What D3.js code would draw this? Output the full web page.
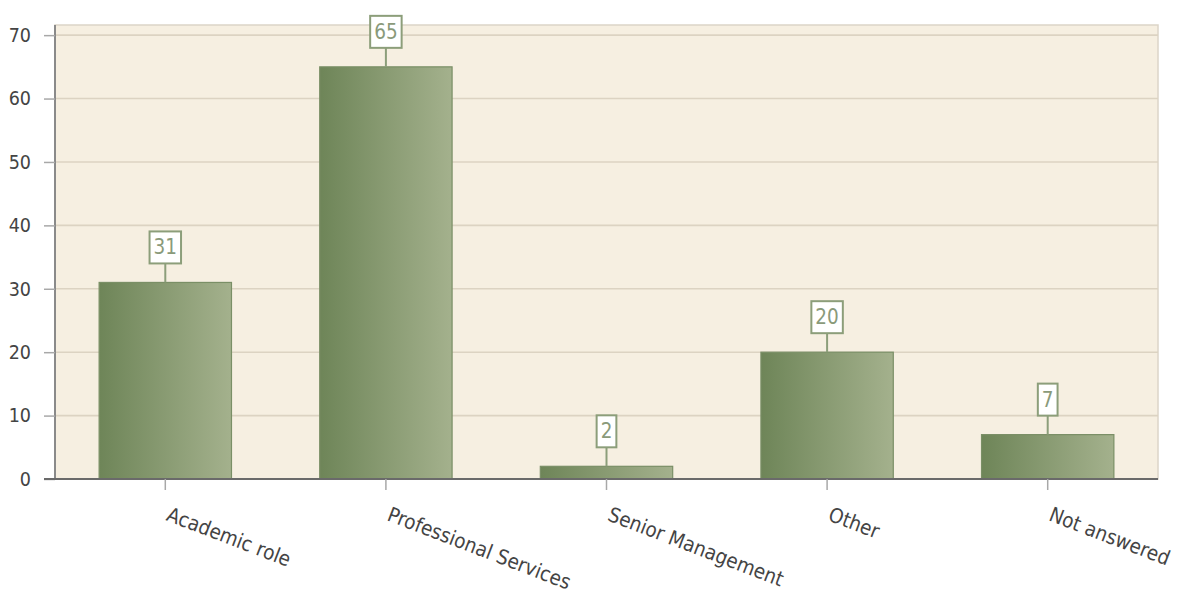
<!DOCTYPE html>
<html><head><meta charset="utf-8">
<script src="https://cdn.jsdelivr.net/npm/d3@7"></script>
<style>body{margin:0;background:#fff;} svg{display:block;}</style>
</head><body>
<script>
const categories = ["Academic role","Professional Services","Senior Management","Other","Not answered"];
const values = [31, 65, 2, 20, 7];
const yTicks = [0,10,20,30,40,50,60,70];

const W = 1184, H = 597;
const m = {left:55, top:25, right:1158, bottom:479};
const svg = d3.select("body").append("svg").attr("width",W).attr("height",H);
const FONT = "'DejaVu Sans Condensed','DejaVu Sans',sans-serif";

const x = d3.scaleBand().domain(categories).range([m.left, m.right]).paddingInner(0.4).paddingOuter(0.2);
const y = d3.scaleLinear().domain([0, 71.6]).range([m.bottom, m.top]);

const defs = svg.append("defs");
const g = defs.append("linearGradient").attr("id","bg").attr("x1","0").attr("x2","1").attr("y1","0").attr("y2","0");
g.append("stop").attr("offset","0").attr("stop-color","#6e8558");
g.append("stop").attr("offset","1").attr("stop-color","#a4b18d");

// plot background
svg.append("rect").attr("x",m.left).attr("y",m.top).attr("width",m.right-m.left).attr("height",m.bottom-m.top)
  .attr("fill","#f6efe1").attr("stroke","#dcd5c8").attr("stroke-width",1.5);

// grid
svg.append("g").selectAll("line").data(yTicks.filter(d=>d>0)).join("line")
  .attr("x1",m.left).attr("x2",m.right).attr("y1",d=>y(d)).attr("y2",d=>y(d))
  .attr("stroke","#dcd3c2").attr("stroke-width",1.6);

// y axis
const yAxis = svg.append("g").attr("transform",`translate(${m.left},0)`)
  .call(d3.axisLeft(y).tickValues(yTicks).tickSize(11).tickPadding(13));
yAxis.select(".domain").attr("stroke","#8a8a8a").attr("stroke-width",2).attr("d",`M0,${m.top}V${m.bottom}`);
yAxis.selectAll(".tick line").attr("stroke","#a8a8a8").attr("stroke-width",1.5);
yAxis.selectAll(".tick text").attr("fill","#444").style("font-family",FONT).style("font-size","19.5px");

// bars
svg.append("g").selectAll("rect").data(values).join("rect")
  .attr("x",(d,i)=>x(categories[i])).attr("width",x.bandwidth())
  .attr("y",d=>y(d)).attr("height",d=>y(0)-y(d))
  .attr("fill","url(#bg)").attr("stroke","#7a8f66").attr("stroke-width",1.2);

// x axis
const xAxis = svg.append("g").attr("transform",`translate(0,${m.bottom})`)
  .call(d3.axisBottom(x).tickSize(11).tickSizeOuter(0));
xAxis.select(".domain").attr("stroke","#6a6a6a").attr("stroke-width",2).attr("d",`M${m.left-11},0H${m.right}`);
xAxis.selectAll(".tick line").attr("stroke","#a8a8a8").attr("stroke-width",1.5);
xAxis.selectAll(".tick text").attr("fill","#444").style("font-family",FONT).style("font-size","20.5px")
  .attr("text-anchor","start").attr("dy",null).attr("y",0)
  .attr("transform","translate(0,41) rotate(21)");

// value labels
const lab = svg.append("g").selectAll("g").data(values).join("g")
  .attr("transform",(d,i)=>`translate(${x(categories[i])+x.bandwidth()/2},${y(d)})`);
lab.append("line").attr("x1",0).attr("x2",0).attr("y1",0).attr("y2",-19).attr("stroke","#8c9e7a").attr("stroke-width",2);
lab.each(function(d){
  const s = d3.select(this);
  const t = s.append("text").text(d).attr("text-anchor","middle").attr("y",-28)
    .style("font-family",FONT).style("font-size","20.5px").attr("fill","#8a9a7a");
  const w = t.node().getComputedTextLength();
  s.insert("rect","text").attr("x",-w/2-4).attr("y",-51).attr("width",w+8).attr("height",32)
    .attr("fill","#fff").attr("stroke","#8c9e7a").attr("stroke-width",2);
});
</script>
</body></html>
